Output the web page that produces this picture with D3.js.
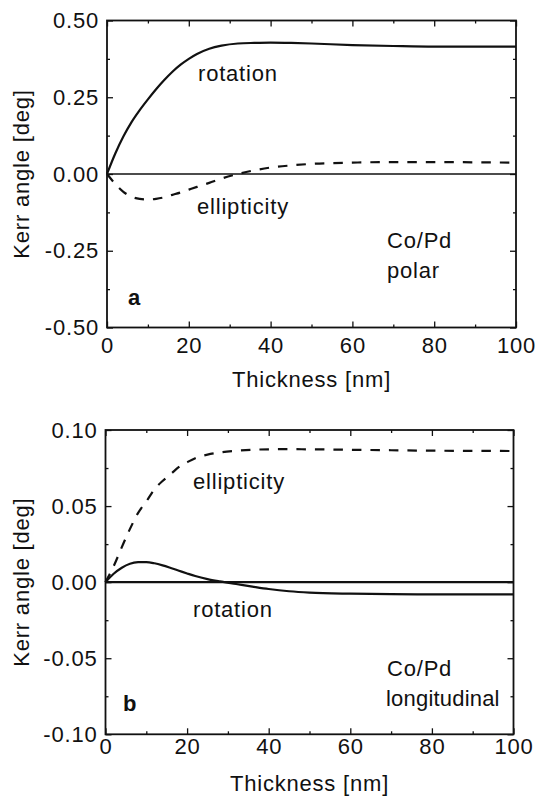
<!DOCTYPE html>
<html>
<head>
<meta charset="utf-8">
<script src="https://cdn.jsdelivr.net/npm/d3@7"></script>
<style>
  body { margin: 0; background: #fff; }
  text { font-family: 'Liberation Sans', Arial, sans-serif; fill: #111; }
</style>
</head>
<body>
<script>
// thickness grid (nm) shared by all curves
const thickness = [0, 2, 4, 6, 8, 10, 12, 14, 16, 18, 20, 22, 25, 28, 32, 36, 40, 45, 50, 60, 70, 80, 90, 100];

// panel a, polar
const rotationA    = [0, 0.066, 0.122, 0.169, 0.208, 0.243, 0.276, 0.306, 0.333, 0.356, 0.375, 0.391, 0.408, 0.418, 0.425, 0.427, 0.428, 0.427, 0.425, 0.42, 0.417, 0.415, 0.415, 0.415];
const ellipticityA = [0, -0.032, -0.058, -0.074, -0.081, -0.083, -0.081, -0.076, -0.068, -0.06, -0.051, -0.042, -0.029, -0.015, 0, 0.012, 0.021, 0.028, 0.033, 0.037, 0.039, 0.039, 0.038, 0.037];

// panel b, longitudinal
const rotationB    = [0, 0.0055, 0.0095, 0.0121, 0.0131, 0.0132, 0.0124, 0.011, 0.0093, 0.0075, 0.0057, 0.004, 0.002, 0.0005, -0.0012, -0.0029, -0.0045, -0.006, -0.0069, -0.0076, -0.0079, -0.008, -0.0081, -0.0081];
const ellipticityB = [0, 0.0105, 0.023, 0.035, 0.0455, 0.053, 0.061, 0.0665, 0.071, 0.0757, 0.0788, 0.0815, 0.0838, 0.0852, 0.0863, 0.087, 0.0873, 0.0874, 0.0873, 0.087, 0.0867, 0.0864, 0.0863, 0.0862];

const xTicks = [0, 20, 40, 60, 80, 100];
const xMinor = [10, 30, 50, 70, 90];
const yTicksA = [-0.5, -0.25, 0, 0.25, 0.5];
const yMinorA = [-0.375, -0.125, 0.125, 0.375];
const yTicksB = [-0.1, -0.05, 0, 0.05, 0.1];
const yMinorB = [-0.075, -0.025, 0.025, 0.075];

const w = 538;
const h = 798;
const fs = 22;

const svg = d3.select('body')
              .append('svg')
              .attr('width', w)
              .attr('height', h);

function panel(p) {
  const xScale = d3.scaleLinear().domain([0, 100]).range([p.left, p.right]);
  const yScale = d3.scaleLinear().domain([p.yTicks[0], p.yTicks[p.yTicks.length - 1]]).range([p.bottom, p.top]);
  const g = svg.append('g');

  // minor ticks, all four sides
  const minor = [
    [d3.axisBottom(xScale).tickValues(xMinor), p.bottom, 'x'],
    [d3.axisTop(xScale).tickValues(xMinor), p.top, 'x'],
    [d3.axisLeft(yScale).tickValues(p.yMinor), p.left, 'y'],
    [d3.axisRight(yScale).tickValues(p.yMinor), p.right, 'y']
  ];
  minor.forEach(([ax, pos, dir]) => {
    g.append('g')
     .attr('transform', dir == 'x' ? 'translate(0,' + pos + ')' : 'translate(' + pos + ',0)')
     .call(ax.tickSize(-3).tickSizeOuter(0).tickFormat(''));
  });

  const fmt = (d) => d.toFixed(2);
  const xAxis = d3.axisBottom(xScale).tickValues(xTicks).tickSize(-6).tickSizeOuter(0).tickPadding(p.xPad);
  const yAxis = d3.axisLeft(yScale).tickValues(p.yTicks).tickSize(-6).tickSizeOuter(0).tickPadding(8).tickFormat(fmt);

  g.append('g').attr('transform', 'translate(0,' + p.bottom + ')').call(xAxis);
  g.append('g').attr('transform', 'translate(' + p.left + ',0)').call(yAxis);
  g.append('g').attr('transform', 'translate(0,' + p.top + ')')
   .call(d3.axisTop(xScale).tickValues(xTicks).tickSize(-6).tickSizeOuter(0).tickFormat(''));
  g.append('g').attr('transform', 'translate(' + p.right + ',0)')
   .call(d3.axisRight(yScale).tickValues(p.yTicks).tickSize(-6).tickSizeOuter(0).tickFormat(''));

  g.selectAll('.domain').remove();
  g.selectAll('.tick line').attr('stroke', '#111').attr('stroke-width', 1.3);
  g.selectAll('.tick text')
   .style('font-size', fs + 'px')
   .style('letter-spacing', '0.8px')
   .attr('fill', '#111');

  // frame
  g.append('rect')
   .attr('x', p.left).attr('y', p.top)
   .attr('width', p.right - p.left).attr('height', p.bottom - p.top)
   .attr('fill', 'none').attr('stroke', '#111').attr('stroke-width', 1.8);

  // zero line
  g.append('line')
   .attr('x1', xScale(0)).attr('x2', xScale(100))
   .attr('y1', yScale(0)).attr('y2', yScale(0))
   .attr('stroke', '#111').attr('stroke-width', p.zeroW);

  const line = d3.line()
                 .x((d, i) => xScale(thickness[i]))
                 .y((d) => yScale(d))
                 .curve(d3.curveMonotoneX);

  g.append('path').datum(p.rot)
   .attr('d', line).attr('fill', 'none').attr('stroke', '#111').attr('stroke-width', 2.2);
  g.append('path').datum(p.ell)
   .attr('d', line).attr('fill', 'none').attr('stroke', '#111').attr('stroke-width', 2.2)
   .attr('stroke-dasharray', '9.5,9');

  p.labels.forEach((l) => {
    g.append('text')
     .text(l[0]).attr('x', l[1]).attr('y', l[2])
     .style('font-size', fs + 'px')
     .style('letter-spacing', l[3] ? '0px' : (l[4] || 0.8) + 'px')
     .style('font-weight', l[3] ? 'bold' : 'normal');
  });

  g.append('text')
   .text('Thickness [nm]')
   .attr('text-anchor', 'middle')
   .attr('x', (p.left + p.right) / 2)
   .attr('y', p.xTitleY)
   .style('font-size', fs + 'px')
   .style('letter-spacing', '0.8px');

  g.append('text')
   .text('Kerr angle [deg]')
   .attr('text-anchor', 'middle')
   .attr('transform', 'translate(29,' + yScale(0) + ')rotate(-90)')
   .style('font-size', fs + 'px')
   .style('letter-spacing', '0.8px');
}

panel({
  left: 107, right: 516, top: 20.5, bottom: 327.5,
  yTicks: yTicksA, yMinor: yMinorA, xPad: 10, xTitleY: 387, zeroW: 1.6,
  rot: rotationA, ell: ellipticityA,
  labels: [['rotation', 198, 81], ['ellipticity', 197, 214], ['Co/Pd', 387, 248], ['polar', 387, 278], ['a', 128, 305, true]]
});

panel({
  left: 105.5, right: 513.5, top: 430, bottom: 734.3,
  yTicks: yTicksB, yMinor: yMinorB, xPad: 4, xTitleY: 791, zeroW: 2.2,
  rot: rotationB, ell: ellipticityB,
  labels: [['ellipticity', 193, 489], ['rotation', 193, 617], ['Co/Pd', 387, 676], ['longitudinal', 386, 706, false, 0.2], ['b', 123, 711, true]]
});
</script>
</body>
</html>
